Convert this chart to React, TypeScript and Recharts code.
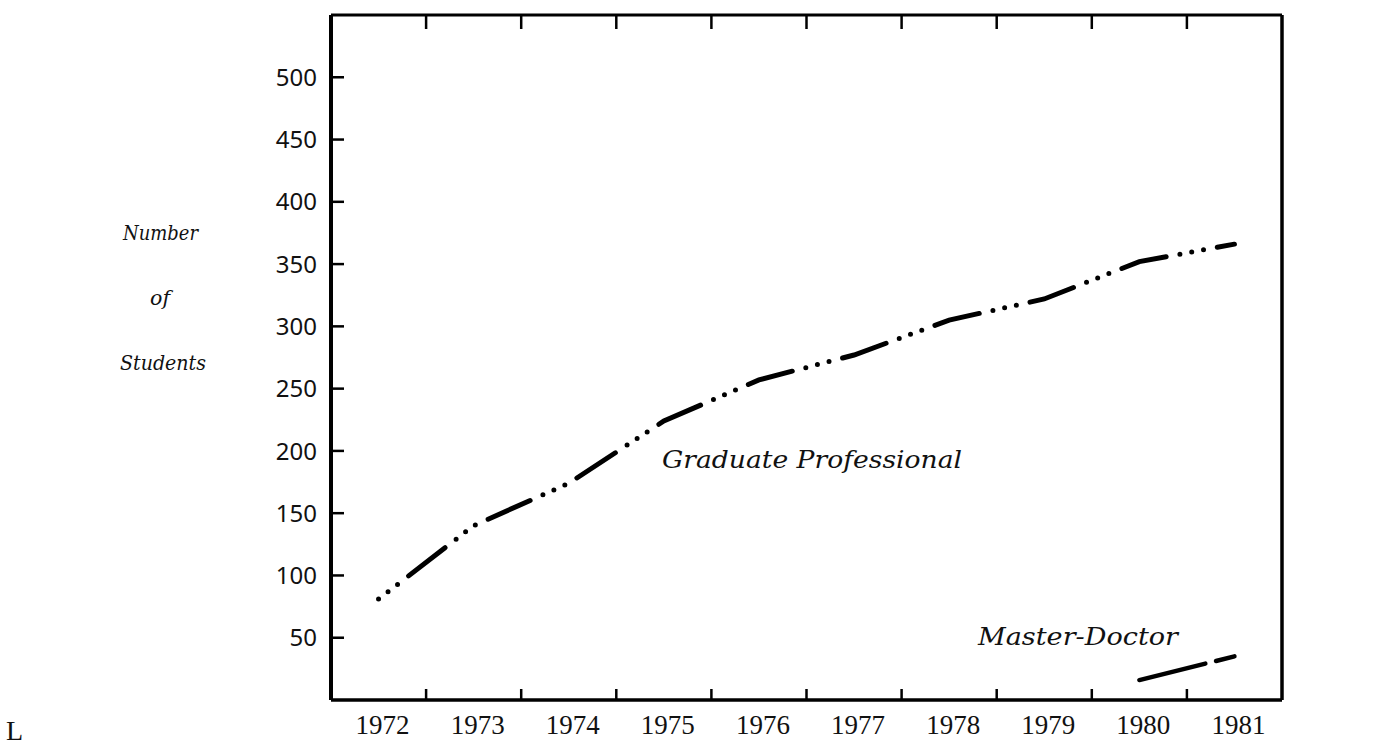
import { LineChart, Line, XAxis, YAxis } from "recharts";

const years = [1972, 1973, 1974, 1975, 1976, 1977, 1978, 1979, 1980, 1981];
const graduateProfessional = [81, 140, 174, 224, 257, 277, 305, 322, 352, 366];
const masterDoctor = [null, null, null, null, null, null, null, null, 16, 35];
const yTicks = [50, 100, 150, 200, 250, 300, 350, 400, 450, 500];

const data = years.map((year, i) => ({
  year,
  grad: graduateProfessional[i],
  md: masterDoctor[i],
}));

// tick marks sit on the year boundaries, labels in the middle of each year
const boundaries = years.slice(0, -1).map((y) => y + 0.5);
const bottomTicks = [...years, ...boundaries].sort((a, b) => a - b);

const W = 1387;
const H = 745;
const PLOT = { left: 331, right: 1282, top: 15, bottom: 700 };
const AX = { left: 60, right: 80, top: 10, bottom: 40 };

const tickFont = "'Noto Sans', 'Liberation Sans', sans-serif";
const yearFont = "'Liberation Serif', 'DejaVu Serif', serif";
const noteFont = "'DejaVu Serif', 'Liberation Serif', serif";

function BottomTick(props: any) {
  const { x, payload } = props;
  const v = payload.value;
  if (Number.isInteger(v)) {
    return (
      <text x={x + 4} y={PLOT.bottom + 34} textAnchor="middle" fontFamily={yearFont} fontSize={27} fill="#111">
        {v}
      </text>
    );
  }
  return <line x1={x} x2={x} y1={PLOT.bottom} y2={PLOT.bottom - 11} stroke="#000" strokeWidth={2.5} />;
}

function TopTick(props: any) {
  const { x } = props;
  return <line x1={x} x2={x} y1={PLOT.top} y2={PLOT.top + 14} stroke="#000" strokeWidth={2.5} />;
}

function LeftTick(props: any) {
  const { y, payload } = props;
  return (
    <g>
      <line x1={PLOT.left} x2={PLOT.left + 13} y1={y} y2={y} stroke="#000" strokeWidth={2.5} />
      <text x={PLOT.left - 14} y={y} dy="0.36em" textAnchor="end" fontFamily={tickFont} fontSize={24} fill="#111">
        {payload.value}
      </text>
    </g>
  );
}

function RightTick(props: any) {
  const { y, payload } = props;
  return (
    <g>
      <line x1={PLOT.right - 14} x2={PLOT.right} y1={y} y2={y} stroke="#000" strokeWidth={2.5} />
      <text x={PLOT.right + 75} y={y} dy="0.36em" textAnchor="end" fontFamily={tickFont} fontSize={24} fill="#111">
        {payload.value}
      </text>
    </g>
  );
}

export default function App() {
  const frame = { stroke: "#000", strokeWidth: 3.5 };
  return (
    <div style={{ position: "absolute", left: 0, top: 0, width: W, height: H, background: "#fff" }}>
      <LineChart
        width={W}
        height={H}
        data={data}
        margin={{
          top: PLOT.top - AX.top,
          right: W - PLOT.right - AX.right,
          bottom: H - PLOT.bottom - AX.bottom,
          left: PLOT.left - AX.left,
        }}
      >
        <XAxis
          dataKey="year"
          type="number"
          domain={[1971.5, 1981.5]}
          ticks={bottomTicks}
          interval={0}
          height={AX.bottom}
          tickSize={0}
          tickMargin={0}
          tickLine={false}
          axisLine={frame}
          tick={(p: any) => <BottomTick {...p} />}
        />
        <XAxis
          xAxisId="top"
          orientation="top"
          dataKey="year"
          type="number"
          domain={[1971.5, 1981.5]}
          ticks={boundaries}
          interval={0}
          height={AX.top}
          tickSize={0}
          tickMargin={0}
          tickLine={false}
          axisLine={{ stroke: "#000", strokeWidth: 3 }}
          tick={(p: any) => <TopTick {...p} />}
        />
        <YAxis
          type="number"
          domain={[0, 550]}
          ticks={yTicks}
          interval={0}
          width={AX.left}
          tickSize={0}
          tickMargin={0}
          tickLine={false}
          axisLine={{ stroke: "#000", strokeWidth: 4 }}
          tick={(p: any) => <LeftTick {...p} />}
        />
        <YAxis
          yAxisId="right"
          orientation="right"
          type="number"
          domain={[0, 550]}
          ticks={yTicks}
          interval={0}
          width={AX.right}
          tickSize={0}
          tickMargin={0}
          tickLine={false}
          axisLine={frame}
          tick={(p: any) => <RightTick {...p} />}
        />
        <Line
          dataKey="grad"
          type="linear"
          stroke="#000"
          strokeWidth={5}
          strokeLinecap="round"
          strokeDasharray="0 12 0 12 0 14 46 14"
          dot={false}
          activeDot={false}
          isAnimationActive={false}
        />
        <Line
          dataKey="md"
          type="linear"
          stroke="#000"
          strokeWidth={4.5}
          strokeLinecap="round"
          strokeDasharray="68 11 22 300"
          dot={false}
          activeDot={false}
          connectNulls={false}
          isAnimationActive={false}
        />
      </LineChart>
      <svg
        width={W}
        height={H}
        style={{ position: "absolute", left: 0, top: 0, pointerEvents: "none" }}
      >
        <g fontFamily={noteFont} fontStyle="italic" fill="#111">
          <text x={123} y={240} fontSize={21} textLength={75} lengthAdjust="spacingAndGlyphs">Number</text>
          <text x={150} y={305} fontSize={21} textLength={20} lengthAdjust="spacingAndGlyphs">of</text>
          <text x={120} y={370} fontSize={21} textLength={86} lengthAdjust="spacingAndGlyphs">Students</text>
          <text x={662} y={468} fontSize={25} textLength={300} lengthAdjust="spacingAndGlyphs">Graduate Professional</text>
          <text x={978} y={645} fontSize={25} textLength={200} lengthAdjust="spacingAndGlyphs">Master-Doctor</text>
        </g>
        <text x={6} y={740} fontFamily={yearFont} fontSize={28} fill="#111">L</text>
      </svg>
    </div>
  );
}
